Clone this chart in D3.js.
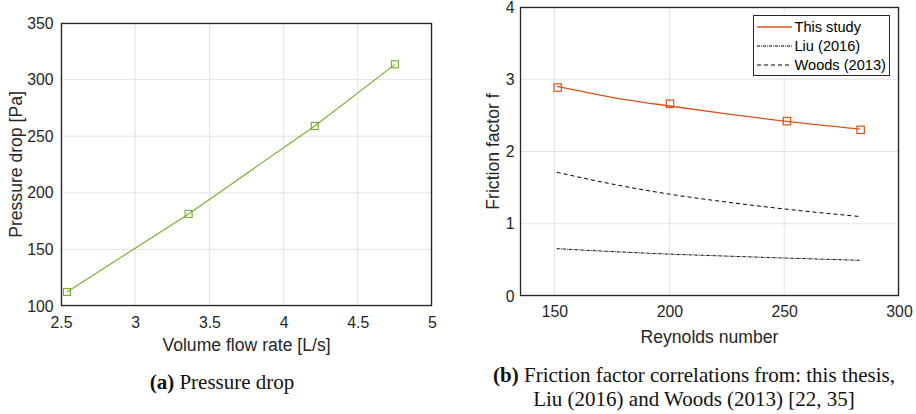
<!DOCTYPE html>
<html><head><meta charset="utf-8">
<script src="https://cdn.jsdelivr.net/npm/d3@7"></script>
<style>body{margin:0;background:#fff}svg{display:block}</style>
</head><body>
<svg id="c" width="916" height="414"></svg>
<script>
// Panel (a)
const flowRate = [2.54, 3.36, 4.21, 4.75];
const pressureDrop = [112.4, 181.3, 259.0, 313.5];
const aXTicks = [2.5, 3, 3.5, 4, 4.5, 5];
const aYTicks = [100, 150, 200, 250, 300, 350];

// Panel (b)
const reMarkers = [151.4, 200.3, 251.2, 283.3];
const fStudyMarkers = [2.885, 2.66, 2.42, 2.30];
const reCurve = [151, 175, 200, 225, 250, 283];
const fStudyCurve = [2.90, 2.75, 2.63, 2.52, 2.42, 2.31];
const fLiu = [0.655, 0.615, 0.58, 0.552, 0.526, 0.494];
const fWoods = [1.713, 1.55, 1.41, 1.30, 1.205, 1.10];
const bXTicks = [150, 200, 250, 300];
const bYTicks = [0, 1, 2, 3, 4];
const legendLabels = ["This study", "Liu (2016)", "Woods (2013)"];

const svg = d3.select("#c");
const FONT = "'Liberation Sans', Arial, Helvetica, sans-serif";
const SERIF = "'Liberation Serif', 'Times New Roman', serif";
const AX = "#262626", GRID = "#e3e3e3";

function panel(o) {
  const x = d3.scaleLinear().domain(o.xd).range([o.x0, o.x1]);
  const y = d3.scaleLinear().domain(o.yd).range([o.y1, o.y0]);
  const g = svg.append("g");
  g.selectAll(".gx").data(o.xt).join("line")
    .attr("x1", d => x(d)).attr("x2", d => x(d)).attr("y1", o.y0).attr("y2", o.y1)
    .attr("stroke", GRID).attr("stroke-width", 1);
  g.selectAll(".gy").data(o.yt).join("line")
    .attr("y1", d => y(d)).attr("y2", d => y(d)).attr("x1", o.x0).attr("x2", o.x1)
    .attr("stroke", GRID).attr("stroke-width", 1);
  const xa = g.append("g").attr("transform", `translate(0,${o.y1})`)
    .call(d3.axisBottom(x).tickValues(o.xt).tickSize(0).tickPadding(o.xpad).tickFormat(d => String(d)));
  const ya = g.append("g").attr("transform", `translate(${o.x0},0)`)
    .call(d3.axisLeft(y).tickValues(o.yt).tickSize(0).tickPadding(o.ypad).tickFormat(d => String(d)));
  [xa, ya].forEach(a => {
    a.select(".domain").remove();
    a.selectAll("line").remove();
    a.selectAll("text").attr("fill", AX).style("font-family", FONT).style("font-size", "15.8px");
  });
  xa.selectAll("text").attr("dy", "0.71em");
  g.append("rect").attr("x", o.x0 + 0.5).attr("y", o.y0 + 0.5)
    .attr("width", o.x1 - o.x0 - 1).attr("height", o.y1 - o.y0 - 1)
    .attr("fill", "none").attr("stroke", AX).attr("stroke-width", 1.3);
  g.append("text").attr("x", (o.x0 + o.x1) / 2).attr("y", o.xlY).attr("text-anchor", "middle")
    .attr("fill", AX).style("font-family", FONT).style("font-size", "17.6px").text(o.xl);
  g.append("text").attr("transform", `translate(${o.ylX},${(o.y0 + o.y1) / 2}) rotate(-90)`).attr("text-anchor", "middle")
    .attr("fill", AX).style("font-family", FONT).style("font-size", "17.6px").text(o.yl);
  return {x, y, g};
}

// Panel a
const A = panel({xd: [2.5, 5], yd: [100, 350], x0: 61, x1: 432, y0: 23, y1: 306, xpad: 10.5, ypad: 7.5,
  xt: aXTicks, yt: aYTicks, xl: "Volume flow rate [L/s]", yl: "Pressure drop [Pa]",
  xlY: 350.5, ylX: 21.5});
const green = "#77ac30";
const ptsA = flowRate.map((v, i) => [v, pressureDrop[i]]);
A.g.append("path").attr("d", d3.line().x(d => A.x(d[0])).y(d => A.y(d[1]))(ptsA))
  .attr("fill", "none").attr("stroke", green).attr("stroke-width", 1.1);
A.g.selectAll(".ma").data(ptsA).join("rect")
  .attr("x", d => A.x(d[0]) - 3.5).attr("y", d => A.y(d[1]) - 3.5).attr("width", 7).attr("height", 7)
  .attr("fill", "none").attr("stroke", green).attr("stroke-width", 1.1);

svg.append("text").attr("x", 222).attr("y", 388.5).attr("text-anchor", "middle")
  .style("font-family", SERIF).style("font-size", "21px").attr("fill", "#111")
  .html('<tspan font-weight="bold">(a)</tspan> Pressure drop');

// Panel b
const B = panel({xd: [135, 300], yd: [0, 4], x0: 520, x1: 899, y0: 7, y1: 296, xpad: 9.5, ypad: 5.5,
  xt: bXTicks, yt: bYTicks, xl: "Reynolds number", yl: "Friction factor f",
  xlY: 343.3, ylX: 499});
const orange = "#d95319";
const line = d3.line().curve(d3.curveMonotoneX).x(d => B.x(d[0])).y(d => B.y(d[1]));
const styles = [
  {c: orange, dash: null, w: 1.3},
  {c: "#000", dash: "3,1,1,1", w: 1},
  {c: "#000", dash: "4,3", w: 1}
];
const series = [fStudyCurve, fLiu, fWoods];
series.forEach((s, k) => {
  B.g.append("path").attr("d", line(reCurve.map((r, i) => [r, s[i]])))
    .attr("fill", "none").attr("stroke", styles[k].c).attr("stroke-width", styles[k].w)
    .attr("stroke-dasharray", styles[k].dash);
});
const ptsB = reMarkers.map((r, i) => [r, fStudyMarkers[i]]);
B.g.selectAll(".mb").data(ptsB).join("rect")
  .attr("x", d => B.x(d[0]) - 3.7).attr("y", d => B.y(d[1]) - 3.7).attr("width", 7.4).attr("height", 7.4)
  .attr("fill", "none").attr("stroke", orange).attr("stroke-width", 1.2);

// legend
const lg = B.g.append("g");
lg.append("rect").attr("x", 753.5).attr("y", 15.5).attr("width", 136).attr("height", 60)
  .attr("fill", "#fff").attr("stroke", AX).attr("stroke-width", 1);
legendLabels.forEach((t, k) => {
  const yy = 27 + k * 19;
  lg.append("line").attr("x1", 757).attr("x2", 792).attr("y1", yy).attr("y2", yy)
    .attr("stroke", styles[k].c).attr("stroke-width", styles[k].w).attr("stroke-dasharray", styles[k].dash);
  lg.append("text").attr("x", 794.5).attr("y", yy).attr("dy", "0.36em")
    .attr("fill", "#000").style("font-family", FONT).style("font-size", "14.6px").text(t);
});

const cap = svg.append("text").attr("text-anchor", "middle").style("font-family", SERIF)
  .style("font-size", "21px").attr("fill", "#111");
cap.append("tspan").attr("x", 694).attr("y", 381.5).attr("font-weight", "bold").text("(b)");
cap.append("tspan").text(" Friction factor correlations from: this thesis,");
cap.append("tspan").attr("x", 694).attr("y", 405.5).text("Liu (2016) and Woods (2013) [22, 35]");
</script>
</body></html>
